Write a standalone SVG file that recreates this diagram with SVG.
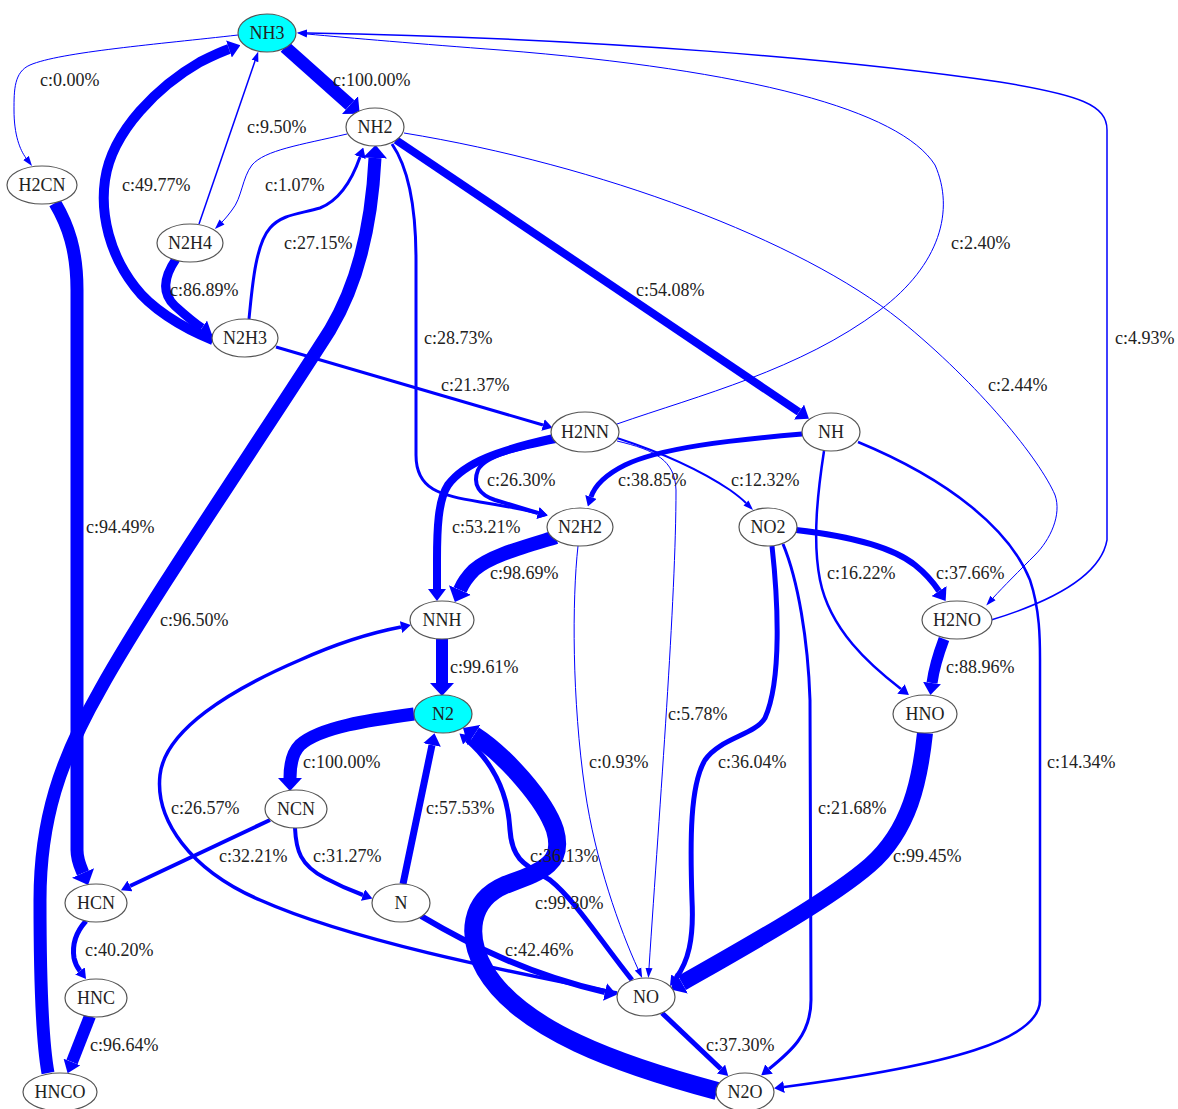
<svg xmlns="http://www.w3.org/2000/svg" width="1178" height="1109" viewBox="0 0 1178 1109">
<style>
.e{fill:none;stroke:#0000ff;stroke-linecap:butt;stroke-linejoin:round}
.nd ellipse{fill:#ffffff;stroke:#555555;stroke-width:1.2}
.nd.hl ellipse{fill:#00ffff}
.nd text{font-family:"Liberation Serif","Times New Roman",serif;font-size:18px;fill:#222;text-anchor:middle}
.lb text{font-family:"Liberation Serif","Times New Roman",serif;font-size:18px;fill:#222}
</style>
<defs>
<marker id="a1" markerUnits="userSpaceOnUse" markerWidth="10" markerHeight="8" refX="0" refY="4" orient="auto"><path d="M0,0.5 L10,4 L0,7.5 z" fill="#0000ff"/></marker>
<marker id="a2" markerUnits="userSpaceOnUse" markerWidth="10" markerHeight="12" refX="0" refY="6" orient="auto"><path d="M0,0 L10,6 L0,12 z" fill="#0000ff"/></marker>
<marker id="a3" markerUnits="userSpaceOnUse" markerWidth="12" markerHeight="18" refX="0" refY="9" orient="auto"><path d="M0,0 L12,9 L0,18 z" fill="#0000ff"/></marker>
<marker id="a4" markerUnits="userSpaceOnUse" markerWidth="13" markerHeight="24" refX="0" refY="12" orient="auto"><path d="M0,0 L13,12 L0,24 z" fill="#0000ff"/></marker>
</defs>
<rect width="1178" height="1109" fill="#ffffff"/>
<g id="edges">
<path id="e-NH3-NH2" class="e" stroke-width="13" marker-end="url(#a4)" d="M285,47 L350,105"/>
<path id="e-NH3-H2CN" class="e" stroke-width="1" marker-end="url(#a1)" d="M238,35 C160,44 60,52 30,65 C14,72 14,90 14,110 C14,135 20,150 26,158"/>
<path id="e-NH2-NH" class="e" stroke-width="8" marker-end="url(#a3)" d="M396,140 L799,412"/>
<path id="e-NH2-N2H2" class="e" stroke-width="3" marker-end="url(#a2)" d="M392,144 C410,170 416,210 416,260 L416,455 C416,490 440,495 480,502 C505,506 525,510 538,513"/>
<path id="e-NH2-H2NO" class="e" stroke-width="1" marker-end="url(#a1)" d="M404,133 C600,165 800,240 900,320 C980,385 1040,460 1055,495 C1062,515 1050,540 1035,555 C1020,570 1003,587 993,598"/>
<path id="e-NH2-N2H4" class="e" stroke-width="1" marker-end="url(#a1)" d="M347,134 C300,145 265,150 252,165 C242,178 242,198 232,210 C229,214 226,218 222,222"/>
<path id="e-N2H4-N2H3" class="e" stroke-width="9" marker-end="url(#a3)" d="M176,259 C165,275 160,292 175,306 C185,315 193,322 202,328"/>
<path id="e-N2H4-NH3" class="e" stroke-width="1.5" marker-end="url(#a1)" d="M199,224 L255,61"/>
<path id="e-N2H3-NH3" class="e" stroke-width="10" marker-end="url(#a3)" d="M213,340 C180,327 150,307 135,287 C110,255 100,215 105,180 C112,130 160,85 200,62 C210,57 220,52 229,49"/>
<path id="e-N2H3-NH2" class="e" stroke-width="3" marker-end="url(#a2)" d="M249,319 C252,290 255,245 270,228 C282,214 300,214 320,208 C340,200 352,180 360,157"/>
<path id="e-N2H3-H2NN" class="e" stroke-width="3" marker-end="url(#a2)" d="M276,347 L543,425"/>
<path id="e-H2NN-NNH" class="e" stroke-width="8" marker-end="url(#a3)" d="M554,438 C500,450 465,462 448,485 C438,500 437,530 437,560 L437,589"/>
<path id="e-H2NN-N2H2" class="e" stroke-width="4" marker-end="url(#a2)" d="M556,441 C520,448 485,455 478,470 C472,485 480,495 495,500 C515,506 528,510 538,513"/>
<path id="e-H2NN-NO2" class="e" stroke-width="2" marker-end="url(#a1)" d="M617,438 C660,452 700,470 730,490 C737,495 742,499 746,503"/>
<path id="e-H2NN-NO" class="e" stroke-width="1" marker-end="url(#a1)" d="M617,441 C655,450 675,460 676,490 C676,600 660,800 649,968"/>
<path id="e-H2NN-NH3" class="e" stroke-width="1" marker-end="url(#a1)" d="M617,424 C700,395 800,370 880,310 C940,265 955,210 935,165 C900,110 750,70 500,50 C420,44 350,38 307,34"/>
<path id="e-H2NO-NH3" class="e" stroke-width="1.5" marker-end="url(#a1)" d="M991,620 C1040,605 1100,580 1107,540 L1107,130 C1107,105 1080,95 1000,82 C850,60 600,38 307,33"/>
<path id="e-N2H2-NNH" class="e" stroke-width="14" marker-end="url(#a4)" d="M556,537 C520,548 490,556 474,570 C467,577 463,583 460,590"/>
<path id="e-N2H2-NO" class="e" stroke-width="1" marker-end="url(#a1)" d="M578,546 C572,600 572,700 585,790 C595,860 620,930 638,969"/>
<path id="e-NH-N2H2" class="e" stroke-width="5" marker-end="url(#a2)" d="M802,434 C730,440 660,448 625,465 C605,475 595,485 591,497"/>
<path id="e-NH-HNO" class="e" stroke-width="2.5" marker-end="url(#a2)" d="M824,451 C818,490 812,540 820,580 C830,630 870,665 901,689"/>
<path id="e-NH-N2O" class="e" stroke-width="2.5" marker-end="url(#a2)" d="M858,442 C950,480 1010,530 1030,580 C1040,610 1040,640 1040,660 L1040,1000 C1040,1040 950,1065 784,1087"/>
<path id="e-NO2-H2NO" class="e" stroke-width="6" marker-end="url(#a3)" d="M796,530 C840,535 890,545 915,565 C925,573 933,582 939,591"/>
<path id="e-NO2-NO" class="e" stroke-width="5" marker-end="url(#a2)" d="M772,546 C778,600 782,680 765,718 C755,735 720,738 705,760 C690,785 690,840 692,900 C694,940 688,962 676,978"/>
<path id="e-NO2-N2O" class="e" stroke-width="3" marker-end="url(#a2)" d="M783,544 C798,580 808,640 810,700 L811,1000 C811,1035 790,1052 769,1069"/>
<path id="e-H2NO-HNO" class="e" stroke-width="11" marker-end="url(#a3)" d="M944,639 C938,655 934,668 932,683"/>
<path id="e-HNO-NO" class="e" stroke-width="16" marker-end="url(#a4)" d="M925,733 C920,780 910,830 870,865 C830,900 740,950 682,983"/>
<path id="e-NNH-N2" class="e" stroke-width="12" marker-end="url(#a4)" d="M442,639 L442,683"/>
<path id="e-N2-NCN" class="e" stroke-width="13" marker-end="url(#a4)" d="M414,714 C370,720 320,727 300,745 C292,753 290,765 290,778"/>
<path id="e-NCN-HCN" class="e" stroke-width="4" marker-end="url(#a2)" d="M270,820 L130,886"/>
<path id="e-NCN-N" class="e" stroke-width="4" marker-end="url(#a2)" d="M295,828 C296,850 300,865 325,878 C340,886 352,891 363,895"/>
<path id="e-N-N2" class="e" stroke-width="7" marker-end="url(#a3)" d="M403,884 L432,745"/>
<path id="e-N-NO" class="e" stroke-width="6" marker-end="url(#a3)" d="M421,916 C470,945 530,975 605,992"/>
<path id="e-NO-NNH" class="e" stroke-width="3.5" marker-end="url(#a2)" d="M617,993 C500,970 350,940 260,900 C190,870 155,820 160,775 C165,730 230,690 300,660 C340,642 375,632 401,627"/>
<path id="e-NO-N2" class="e" stroke-width="5" marker-end="url(#a2)" d="M632,980 C600,940 575,900 550,880 C525,865 512,860 510,830 C508,790 490,760 467,740"/>
<path id="e-NO-N2O" class="e" stroke-width="5" marker-end="url(#a2)" d="M662,1013 L721,1069"/>
<path id="e-N2O-N2" class="e" stroke-width="18" marker-end="url(#a4)" d="M717,1091 C620,1065 520,1030 485,970 C465,935 470,900 505,885 C540,872 565,865 555,830 C545,800 505,755 474,735"/>
<path id="e-H2CN-HCN" class="e" stroke-width="13" marker-end="url(#a4)" d="M55,203 C68,225 77,250 77,290 L77,850 C77,860 80,866 83,873"/>
<path id="e-HCN-HNC" class="e" stroke-width="5" marker-end="url(#a2)" d="M86,921 C76,932 72,945 74,958 C75,963 77,967 80,971"/>
<path id="e-HNC-HNCO" class="e" stroke-width="12" marker-end="url(#a3)" d="M90,1016 L72,1062"/>
<path id="e-HNCO-NH2" class="e" stroke-width="13" marker-end="url(#a4)" d="M48,1073 C42,1040 40,980 40,900 C40,820 60,760 100,690 C150,600 260,440 330,330 C360,280 372,220 375,158"/>
<g class="lb">
<text x="40" y="86">c:0.00%</text>
<text x="333" y="86">c:100.00%</text>
<text x="247" y="133">c:9.50%</text>
<text x="122" y="191">c:49.77%</text>
<text x="265" y="191">c:1.07%</text>
<text x="284" y="249">c:27.15%</text>
<text x="170" y="296">c:86.89%</text>
<text x="424" y="344">c:28.73%</text>
<text x="441" y="391">c:21.37%</text>
<text x="636" y="296">c:54.08%</text>
<text x="951" y="249">c:2.40%</text>
<text x="988" y="391">c:2.44%</text>
<text x="1115" y="344">c:4.93%</text>
<text x="86" y="533">c:94.49%</text>
<text x="487" y="486">c:26.30%</text>
<text x="618" y="486">c:38.85%</text>
<text x="731" y="486">c:12.32%</text>
<text x="452" y="533">c:53.21%</text>
<text x="490" y="579">c:98.69%</text>
<text x="936" y="579">c:37.66%</text>
<text x="827" y="579">c:16.22%</text>
<text x="450" y="673">c:99.61%</text>
<text x="946" y="673">c:88.96%</text>
<text x="160" y="626">c:96.50%</text>
<text x="668" y="720">c:5.78%</text>
<text x="589" y="768">c:0.93%</text>
<text x="718" y="768">c:36.04%</text>
<text x="303" y="768">c:100.00%</text>
<text x="171" y="814">c:26.57%</text>
<text x="426" y="814">c:57.53%</text>
<text x="818" y="814">c:21.68%</text>
<text x="1047" y="768">c:14.34%</text>
<text x="219" y="862">c:32.21%</text>
<text x="313" y="862">c:31.27%</text>
<text x="530" y="862">c:36.13%</text>
<text x="893" y="862">c:99.45%</text>
<text x="535" y="909">c:99.30%</text>
<text x="505" y="956">c:42.46%</text>
<text x="85" y="956">c:40.20%</text>
<text x="90" y="1051">c:96.64%</text>
<text x="706" y="1051">c:37.30%</text>
</g>
</g>
<g id="node-NH3" class="nd hl"><ellipse cx="267" cy="33" rx="29" ry="19"/><text x="267" y="39">NH3</text></g>
<g id="node-NH2" class="nd"><ellipse cx="375" cy="127" rx="29" ry="19"/><text x="375" y="133">NH2</text></g>
<g id="node-H2CN" class="nd"><ellipse cx="42" cy="185" rx="35" ry="19"/><text x="42" y="191">H2CN</text></g>
<g id="node-N2H4" class="nd"><ellipse cx="190" cy="243" rx="33" ry="19"/><text x="190" y="249">N2H4</text></g>
<g id="node-N2H3" class="nd"><ellipse cx="245" cy="338" rx="33" ry="19"/><text x="245" y="344">N2H3</text></g>
<g id="node-H2NN" class="nd"><ellipse cx="585" cy="432" rx="34" ry="20"/><text x="585" y="438">H2NN</text></g>
<g id="node-NH" class="nd"><ellipse cx="831" cy="432" rx="29" ry="19"/><text x="831" y="438">NH</text></g>
<g id="node-N2H2" class="nd"><ellipse cx="580" cy="527" rx="33" ry="19"/><text x="580" y="533">N2H2</text></g>
<g id="node-NO2" class="nd"><ellipse cx="768" cy="527" rx="29" ry="19"/><text x="768" y="533">NO2</text></g>
<g id="node-H2NO" class="nd"><ellipse cx="957" cy="620" rx="35" ry="19"/><text x="957" y="626">H2NO</text></g>
<g id="node-NNH" class="nd"><ellipse cx="442" cy="620" rx="32" ry="19"/><text x="442" y="626">NNH</text></g>
<g id="node-N2" class="nd hl"><ellipse cx="443" cy="714" rx="29" ry="19"/><text x="443" y="720">N2</text></g>
<g id="node-HNO" class="nd"><ellipse cx="925" cy="714" rx="32" ry="19"/><text x="925" y="720">HNO</text></g>
<g id="node-NCN" class="nd"><ellipse cx="296" cy="809" rx="31" ry="19"/><text x="296" y="815">NCN</text></g>
<g id="node-HCN" class="nd"><ellipse cx="96" cy="903" rx="31" ry="19"/><text x="96" y="909">HCN</text></g>
<g id="node-N" class="nd"><ellipse cx="401" cy="903" rx="29" ry="19"/><text x="401" y="909">N</text></g>
<g id="node-NO" class="nd"><ellipse cx="646" cy="997" rx="29" ry="19"/><text x="646" y="1003">NO</text></g>
<g id="node-HNC" class="nd"><ellipse cx="96" cy="998" rx="31" ry="19"/><text x="96" y="1004">HNC</text></g>
<g id="node-HNCO" class="nd"><ellipse cx="60" cy="1092" rx="37" ry="19"/><text x="60" y="1098">HNCO</text></g>
<g id="node-N2O" class="nd"><ellipse cx="745" cy="1092" rx="29" ry="19"/><text x="745" y="1098">N2O</text></g>
</svg>
